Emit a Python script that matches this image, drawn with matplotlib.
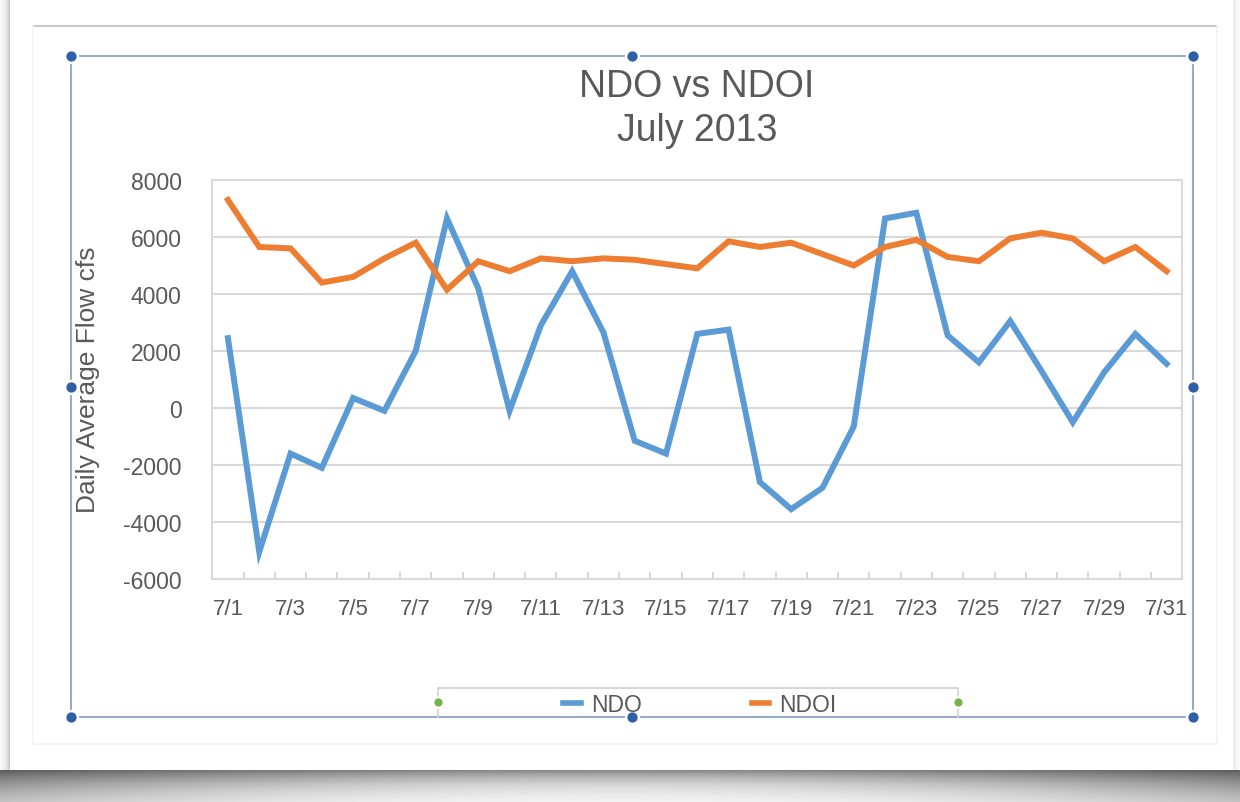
import numpy as np
import matplotlib
matplotlib.use("Agg")
import matplotlib.pyplot as plt
from matplotlib.ticker import FixedLocator, NullFormatter

plt.rcParams['font.family'] = ['Liberation Sans', 'DejaVu Sans']

# ---- data ---------------------------------------------------------------
days = [f"7/{d}" for d in range(1, 32)]
ndo = [2450, -5050, -1600, -2100, 350, -100, 2000, 6650, 4200, -100,
       2900, 4800, 2650, -1150, -1600, 2600, 2750, -2600, -3550, -2800,
       -650, 6650, 6850, 2550, 1600, 3050, 1300, -500, 1250, 2600, 1550]
ndoi = [7300, 5650, 5600, 4400, 4600, 5250, 5800, 4150, 5150, 4800,
        5250, 5150, 5250, 5200, 5050, 4900, 5850, 5650, 5800, 5400,
        5000, 5650, 5900, 5300, 5150, 5950, 6150, 5950, 5150, 5650, 4800]
y_ticks = [-6000, -4000, -2000, 0, 2000, 4000, 6000, 8000]

W, H = 1240, 803
fig = plt.figure(figsize=(W / 100, H / 100), dpi=100)
fig.patch.set_facecolor("white")

# ---- page background, shadow and selection frame (pixel coordinates) ----
bg = fig.add_axes([0, 0, 1, 1], zorder=0)
bg.set_xlim(0, W)
bg.set_ylim(H, 0)
bg.axis("off")

yy, xx = np.mgrid[0:H, 0:W].astype(float)
shade = np.zeros((H, W))
page_bottom, page_left, page_right = 770.0, 10.0, 1232.0
# curled-page shadow under the bottom edge: deeper towards both ends
u = (xx - W / 2) / (W / 2)
depth = 14 + 18 * u ** 2
below = yy > page_bottom
shade[below] = (0.50 + 0.15 * u[below] ** 2) * np.exp(-(yy[below] - page_bottom) / depth[below])
# thin shadows along the left and right edges
left = xx < page_left
shade[left] = np.maximum(shade[left], 0.28 * np.exp(-(page_left - xx[left]) / 4))
right = xx > page_right
shade[right] = np.maximum(shade[right], 0.10 * np.exp(-(xx[right] - page_right) / 4))
img = np.clip(1 - shade, 0, 1)
rgb = np.dstack([img, img, img])
bg.imshow(rgb, extent=(0, W, H, 0), aspect="auto", interpolation="bilinear", zorder=0)

# faint inner page frame
bg.plot([33, 1217], [27, 27], color="#c9c9c9", lw=1.5, zorder=1)
bg.plot([33, 33, 1217, 1217], [27, 745, 745, 27], color="#f3f3f3", lw=1.2, zorder=1)

# selection rectangle with handles
sel_col = "#9aaac4"
x0, x1, y0, y1 = 71, 1193, 57, 718
bg.plot([x0, x1, x1, x0, x0], [y0, y0, y1, y1, y0], color=sel_col, lw=1.5, zorder=2)

# legend box outline with green handles
lg_col = "#d0d0d0"
bg.plot([438, 438, 958, 958], [718, 689, 689, 718], color=lg_col, lw=1.2, zorder=2)
bg.scatter([438, 958], [703, 703], s=55, color="#72b34a", edgecolors="white",
           linewidths=1.5, zorder=4)

hx = [x0, (x0 + x1) / 2, x1, x0, x1, x0, (x0 + x1) / 2, x1]
hy = [y0, y0, y0, (y0 + y1) / 2, (y0 + y1) / 2, y1, y1, y1]
bg.scatter(hx, hy, s=85, color="#2f5fa6", edgecolors="white", linewidths=1.8, zorder=5)

# ---- chart ---------------------------------------------------------------
ax = fig.add_axes([212.3 / W, 1 - 580 / H, 970 / W, 399 / H], zorder=1)
ax.set_facecolor("white")
x = np.arange(len(days))
blue, orange = "#5b9bd5", "#ed7d31"
ax.plot(x, ndo, color=blue, lw=4.3, solid_joinstyle="miter", label="NDO", zorder=3)
ax.plot(x, ndoi, color=orange, lw=4.3, solid_joinstyle="miter", label="NDOI", zorder=3)

ax.set_xlim(-0.5, len(days) - 0.5)
ax.set_ylim(-6000, 8000)
ax.set_yticks(y_ticks)
ax.set_yticklabels([f"{v}" for v in y_ticks])
ax.yaxis.grid(True, color="#d9d9d9", lw=1.5, zorder=0)
ax.set_axisbelow(True)

ax.set_xticks(x[::2])
ax.set_xticklabels(days[::2])
ax.xaxis.set_minor_locator(FixedLocator(np.arange(0.5, len(days) - 1, 1.0)))
ax.xaxis.set_minor_formatter(NullFormatter())
ax.tick_params(axis="x", which="major", length=0, pad=14, labelsize=16, labelcolor="#595959")
ax.tick_params(axis="x", which="minor", direction="in", length=5, width=1.2, color="#d0d0d0")
ax.tick_params(axis="y", length=0, pad=22, labelsize=16.5, labelcolor="#595959")

for s in ax.spines.values():
    s.set_color("#d9d9d9")
    s.set_linewidth(1.5)

fig.text(88 / W, 1 - 380 / H, "Daily Average Flow cfs", rotation=90, ha="center",
         va="center", fontsize=19, color="#595959")
fig.text(697 / W, 1 - 87 / H, "NDO vs NDOI", ha="center", va="center",
         fontsize=27, color="#595959")
fig.text(697 / W, 1 - 131 / H, "July 2013", ha="center", va="center",
         fontsize=27, color="#595959")

leg = fig.legend(loc="center", bbox_to_anchor=(700 / W, 1 - 706 / H), ncol=2,
                 frameon=False, fontsize=16.5, handlelength=0.75, handletextpad=0.45,
                 columnspacing=4.8)
for t in leg.get_texts():
    t.set_color("#595959")
for h in leg.get_lines():
    h.set_linewidth(4)

fig.savefig("out.png", dpi=100)
